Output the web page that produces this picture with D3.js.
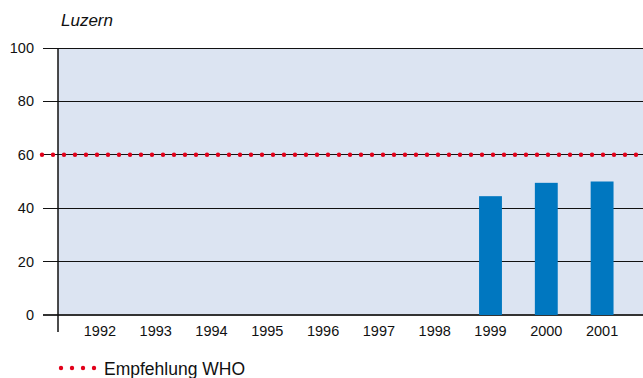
<!DOCTYPE html>
<html>
<head>
<meta charset="utf-8">
<script src="https://cdn.jsdelivr.net/npm/d3@7"></script>
<style>
  html, body { margin: 0; padding: 0; background: #fff; }
  svg { display: block; font-family: "Liberation Sans", Arial, Helvetica, sans-serif; }
</style>
</head>
<body>
<svg id="chart" width="643" height="378"></svg>
<script>
// Jahreswerte Luzern
const years = ["1992", "1993", "1994", "1995", "1996", "1997", "1998", "1999", "2000", "2001"];
const values = [null, null, null, null, null, null, null, 44.5, 49.5, 50];
const yTicks = [0, 20, 40, 60, 80, 100];
const whoLimit = 60;
const title = "Luzern";
const legendLabel = "Empfehlung WHO";

const W = 643, H = 378;
const plot = { left: 58, right: 643, top: 48, bottom: 315 };

const svg = d3.select("#chart");

const y = d3.scaleLinear().domain([0, 100]).range([plot.bottom, plot.top]);
const x = d3.scaleBand().domain(years).range([72, 630]).padding(0);
const barW = x.bandwidth() * 0.41;

// plot background
svg.append("rect")
  .attr("x", plot.left).attr("y", plot.top)
  .attr("width", plot.right - plot.left).attr("height", plot.bottom - plot.top)
  .attr("fill", "#dce4f2");

// horizontal gridlines with left tick stubs
svg.append("g").selectAll("line").data(yTicks).join("line")
  .attr("x1", 43).attr("x2", plot.right)
  .attr("y1", d => y(d)).attr("y2", d => y(d))
  .attr("stroke", d => d === 0 ? "#333" : "#111")
  .attr("stroke-width", d => d === 0 ? 1.5 : 1)
  .attr("shape-rendering", "crispEdges");

// y tick labels
svg.append("g").selectAll("text").data(yTicks).join("text")
  .attr("x", 34).attr("y", d => y(d))
  .attr("dy", "0.35em")
  .attr("text-anchor", "end")
  .attr("font-size", 14.5)
  .attr("fill", "#111")
  .text(d => d);

// bars
svg.append("g").selectAll("rect")
  .data(years.map((yr, i) => ({ yr, v: values[i] })).filter(d => d.v != null))
  .join("rect")
  .attr("x", d => x(d.yr) + x.bandwidth() / 2 - barW / 2)
  .attr("y", d => y(d.v))
  .attr("width", barW)
  .attr("height", d => y(0) - y(d.v))
  .attr("fill", "#0077c0");

// vertical axis line
svg.append("line")
  .attr("x1", plot.left).attr("x2", plot.left)
  .attr("y1", plot.top).attr("y2", 332)
  .attr("stroke", "#111").attr("stroke-width", 1.5);

// x labels
svg.append("g").selectAll("text").data(years).join("text")
  .attr("x", d => x(d) + x.bandwidth() / 2)
  .attr("y", 336)
  .attr("text-anchor", "middle")
  .attr("font-size", 14.5)
  .attr("fill", "#111")
  .text(d => d);

// WHO recommendation line (dotted)
const dotStep = 11;
const whoDots = d3.range(42, W + 1, dotStep);
svg.append("g").selectAll("circle").data(whoDots).join("circle")
  .attr("cx", d => d).attr("cy", y(whoLimit))
  .attr("r", 2.2)
  .attr("fill", "#e2001a");

// title
svg.append("text")
  .attr("x", 61).attr("y", 26)
  .attr("font-size", 17)
  .attr("font-style", "italic")
  .attr("fill", "#111")
  .text(title);

// legend
const legendDots = d3.range(0, 4).map(i => 61 + i * 11);
svg.append("g").selectAll("circle").data(legendDots).join("circle")
  .attr("cx", d => d).attr("cy", 368)
  .attr("r", 2.2)
  .attr("fill", "#e2001a");
svg.append("text")
  .attr("x", 104).attr("y", 375)
  .attr("font-size", 17.5)
  .attr("fill", "#111")
  .text(legendLabel);
</script>
</body>
</html>
